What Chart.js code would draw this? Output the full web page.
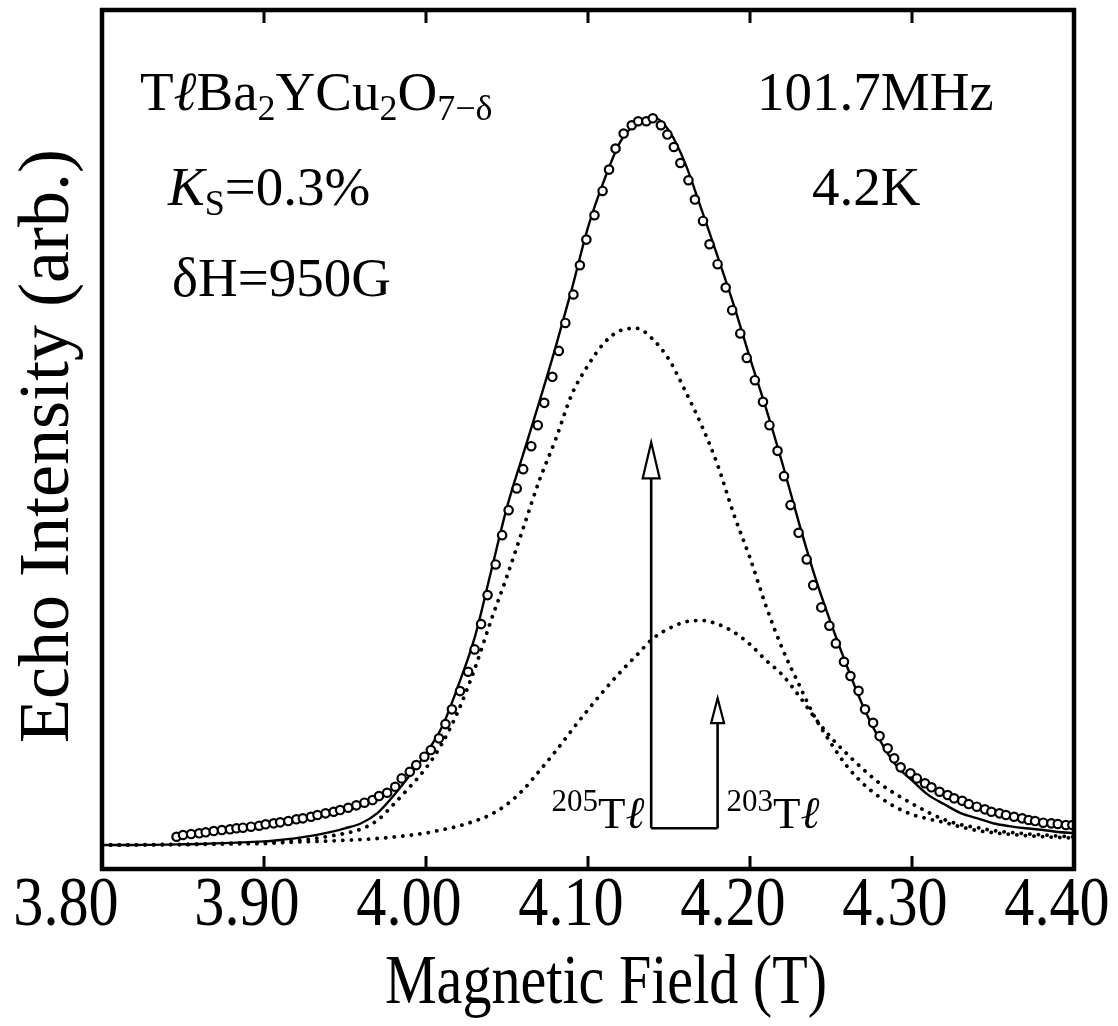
<!DOCTYPE html>
<html>
<head>
<meta charset="utf-8">
<script src="https://cdn.jsdelivr.net/npm/chart.js@4.4.1/dist/chart.umd.min.js"></script>
<style>
  html, body { margin: 0; padding: 0; background: #fff; }
</style>
</head>
<body>
<canvas id="myChart" width="1118" height="1026"></canvas>
<script>
const serif = '"Liberation Serif", "DejaVu Serif", serif';

// measured echo intensity (circles)
const echoField = [
  3.846, 3.850, 3.855, 3.860, 3.864, 3.869, 3.874, 3.879, 3.883, 3.887,
  3.892, 3.897, 3.901, 3.906, 3.910, 3.915, 3.920, 3.924, 3.929, 3.933,
  3.938, 3.943, 3.947, 3.952, 3.957, 3.962, 3.967, 3.971, 3.976, 3.981,
  3.985, 3.990, 3.994, 3.999, 4.003, 4.008, 4.012, 4.016, 4.021, 4.026,
  4.030, 4.034, 4.038, 4.043, 4.047, 4.051, 4.056, 4.060, 4.065, 4.069,
  4.073, 4.078, 4.082, 4.086, 4.091, 4.095, 4.099, 4.104, 4.109, 4.113,
  4.117, 4.122, 4.127, 4.131, 4.136, 4.140, 4.145, 4.149, 4.153, 4.157,
  4.162, 4.166, 4.171, 4.175, 4.180, 4.185, 4.189, 4.194, 4.198, 4.203,
  4.208, 4.212, 4.217, 4.221, 4.225, 4.230, 4.235, 4.239, 4.244, 4.249,
  4.253, 4.258, 4.262, 4.267, 4.271, 4.276, 4.280, 4.285, 4.289, 4.293,
  4.299, 4.303, 4.308, 4.312, 4.317, 4.322, 4.326, 4.331, 4.335, 4.340,
  4.345, 4.349, 4.354, 4.358, 4.363, 4.368, 4.372, 4.376, 4.381, 4.386,
  4.390, 4.395, 4.399
];
const echoData = [
  1.14, 1.38, 1.51, 1.61, 1.75, 1.93, 2.06, 2.16, 2.30, 2.38,
  2.52, 2.65, 2.85, 2.98, 3.12, 3.30, 3.54, 3.67, 3.89, 4.13,
  4.36, 4.58, 4.81, 5.13, 5.46, 5.82, 6.19, 6.74, 7.19, 8.02,
  9.17, 10.08, 11.0, 12.15, 13.07, 14.68, 16.64, 18.67, 21.18, 23.84,
  26.92, 30.40, 34.39, 38.61, 42.64, 46.08, 49.07, 51.72, 54.88, 57.77,
  60.84, 64.42, 67.99, 71.84, 75.75, 79.78, 83.31, 86.66, 90.0, 92.94,
  95.83, 97.9, 99.04, 99.59, 99.59, 100.0, 99.04, 97.76, 96.05, 93.85,
  91.47, 88.82, 85.87, 82.67, 79.92, 76.71, 73.59, 70.39, 67.03, 63.96,
  60.98, 57.77, 54.24, 50.76, 46.77, 42.96, 39.30, 35.76, 32.70, 30.17,
  27.74, 25.21, 23.25, 21.22, 18.67, 16.82, 14.99, 13.30, 11.93, 10.69,
  9.86, 9.17, 8.49, 7.94, 7.33, 6.88, 6.42, 6.09, 5.64, 5.27,
  4.91, 4.58, 4.36, 4.13, 3.89, 3.67, 3.44, 3.30, 3.07, 2.98,
  2.89, 2.75, 2.75
];

// fitted curves (solid = total, dotted = 205Tl and 203Tl parts)
const fitField = [
  3.80, 3.81, 3.82, 3.83, 3.84, 3.85, 3.86, 3.87, 3.88, 3.89,
  3.90, 3.91, 3.92, 3.93, 3.94, 3.95, 3.96, 3.97, 3.98, 3.99,
  4.00, 4.01, 4.02, 4.03, 4.04, 4.05, 4.06, 4.07, 4.08, 4.09,
  4.10, 4.11, 4.12, 4.13, 4.14, 4.15, 4.16, 4.17, 4.18, 4.19,
  4.20, 4.21, 4.22, 4.23, 4.24, 4.25, 4.26, 4.27, 4.28, 4.29,
  4.30, 4.31, 4.32, 4.33, 4.34, 4.35, 4.36, 4.37, 4.38, 4.39,
  4.40
];
const fitTotal = [
  0, 0, 0, 0.02, 0.05, 0.1, 0.15, 0.22, 0.3, 0.4,
  0.5, 0.7, 0.95, 1.3, 1.75, 2.3, 3.0, 4.4, 6.8, 9.6,
  12.6, 16.3, 22.0, 28.5, 37.5, 46.5, 53.8, 61.0, 68.5, 76.5,
  85.0, 91.5, 96.8, 99.3, 100.2, 98.3, 93.8, 87.5, 81.0, 74.3,
  67.0, 60.0, 52.5, 44.5, 37.0, 30.5, 24.5, 19.0, 14.5, 11.0,
  8.9, 6.9, 5.6, 4.4, 3.7, 3.0, 2.6, 2.3, 2.1, 1.8,
  1.65
];
const fit205 = [
  0, 0, 0.02, 0.05, 0.08, 0.1, 0.13, 0.18, 0.25, 0.3,
  0.35, 0.45, 0.6, 0.85, 1.2, 1.6, 2.2, 3.4, 5.6, 8.0,
  10.6, 14.0, 18.5, 24.2, 30.8, 37.0, 43.6, 50.2, 55.8, 62.0,
  66.0, 69.1, 70.8, 71.1, 69.6, 66.8, 62.5, 57.8, 52.3, 45.5,
  39.5, 32.8, 27.0, 22.2, 17.6, 14.0, 10.8, 8.4, 6.6, 5.2,
  4.2, 3.6, 3.1, 2.5, 2.0, 1.7, 1.5, 1.3, 1.15, 1.05,
  0.95
];
const fit203 = [
  0, 0, 0.02, 0.03, 0.04, 0.05, 0.08, 0.12, 0.15, 0.18,
  0.2, 0.3, 0.4, 0.48, 0.55, 0.65, 0.75, 0.9, 1.1, 1.35,
  1.65, 2.1, 2.6, 3.3, 4.2, 5.6, 7.6, 10.2, 12.9, 15.8,
  18.6, 21.3, 23.8, 26.1, 28.4, 29.8, 30.7, 30.9, 30.4, 29.3,
  27.6, 25.4, 23.4, 20.6, 17.5, 14.8, 12.5, 10.4, 8.5, 7.0,
  5.7, 4.5, 3.5, 2.8, 2.4, 2.0, 1.75, 1.55, 1.4, 1.25,
  1.1
];

// isotope line positions (arrows)
const arrowField = [4.139, 4.180];
const arrowTop = [55.4, 20.2];
const arrowBase = 2.3;
const arrowLabels = ['205', '203'];

const xTicks = [3.80, 3.90, 4.00, 4.10, 4.20, 4.30, 4.40];

const toXY = (xs, ys) => xs.map((x, i) => ({ x: x, y: ys[i] }));

function drawRich(ctx, x, y, parts) {
  parts.forEach(p => {
    ctx.font = (p.italic ? 'italic ' : '') + p.size + 'px ' + serif;
    ctx.fillText(p.t, x, y + (p.dy || 0));
    x += ctx.measureText(p.t).width;
  });
  return x;
}

function richWidth(ctx, parts) {
  let w = 0;
  parts.forEach(p => {
    ctx.font = (p.italic ? 'italic ' : '') + p.size + 'px ' + serif;
    w += ctx.measureText(p.t).width;
  });
  return w;
}

// condensed text, like the narrow typeset labels of the original
function narrowText(ctx, text, cx, y, size, squeeze) {
  ctx.save();
  ctx.font = size + 'px ' + serif;
  ctx.textAlign = 'center';
  ctx.translate(cx, y);
  ctx.scale(squeeze, 1);
  ctx.fillText(text, 0, 0);
  ctx.restore();
}

const notes = {
  id: 'notes',
  afterDatasetsDraw(chart) {
    const { ctx, chartArea: a, scales: { x, y } } = chart;
    ctx.save();
    ctx.strokeStyle = '#000';
    ctx.fillStyle = '#000';
    ctx.textBaseline = 'alphabetic';
    ctx.textAlign = 'left';

    // arrows for the two isotopes
    const xs = arrowField.map(v => x.getPixelForValue(v));
    const yb = y.getPixelForValue(arrowBase);
    ctx.lineWidth = 2.6;
    ctx.beginPath();
    ctx.moveTo(xs[0], yb);
    ctx.lineTo(xs[1], yb);
    ctx.stroke();
    xs.forEach((px, i) => {
      const tip = y.getPixelForValue(arrowTop[i]);
      const len = i === 0 ? 36 : 25;
      const half = i === 0 ? 8.5 : 6.5;
      ctx.lineWidth = 2.6;
      ctx.beginPath();
      ctx.moveTo(px, yb);
      ctx.lineTo(px, tip + len);
      ctx.stroke();
      ctx.lineWidth = 2.2;
      ctx.beginPath();
      ctx.moveTo(px, tip);
      ctx.lineTo(px - half, tip + len);
      ctx.lineTo(px + half, tip + len);
      ctx.closePath();
      ctx.fillStyle = '#fff';
      ctx.fill();
      ctx.stroke();
      ctx.fillStyle = '#000';
    });

    // isotope labels
    const iso = lab => [
      { t: lab, size: 31, dy: -17 }, { t: 'T', size: 45 }, { t: 'ℓ', size: 45, italic: true }
    ];
    drawRich(ctx, xs[0] - 7 - richWidth(ctx, iso(arrowLabels[0])), yb, iso(arrowLabels[0]));
    drawRich(ctx, xs[1] + 9, yb, iso(arrowLabels[1]));

    // sample text
    drawRich(ctx, 140, 110, [
      { t: 'T', size: 55 }, { t: 'ℓ', size: 55, italic: true }, { t: 'Ba', size: 55 },
      { t: '2', size: 36, dy: 10 },
      { t: 'YCu', size: 55 }, { t: '2', size: 36, dy: 10 },
      { t: 'O', size: 55 }, { t: '7−δ', size: 36, dy: 10 }
    ]);
    drawRich(ctx, 168, 205, [
      { t: 'K', size: 55, italic: true }, { t: 'S', size: 36, dy: 10 }, { t: '=0.3%', size: 55 }
    ]);
    drawRich(ctx, 172, 296, [{ t: 'δH=950G', size: 55 }]);
    drawRich(ctx, 757, 110, [{ t: '101.7MHz', size: 55 }]);
    drawRich(ctx, 812, 205, [{ t: '4.2K', size: 55 }]);

    // frame and inward ticks
    ctx.lineWidth = 4.5;
    ctx.strokeRect(a.left, a.top, a.right - a.left, a.bottom - a.top);
    ctx.lineWidth = 3;
    xTicks.forEach(v => {
      const px = x.getPixelForValue(v);
      ctx.beginPath();
      ctx.moveTo(px, a.top);
      ctx.lineTo(px, a.top + 13);
      ctx.moveTo(px, a.bottom);
      ctx.lineTo(px, a.bottom - 13);
      ctx.stroke();
    });

    // tick labels and axis titles
    xTicks.forEach((v, i) => {
      const shift = i === 0 ? -36 : -17;
      narrowText(ctx, v.toFixed(2), x.getPixelForValue(v) + shift, 925, 70, 0.86);
    });
    narrowText(ctx, 'Magnetic Field (T)', 606, 1003, 70, 0.83);
    ctx.save();
    ctx.translate(68, 446);
    ctx.rotate(-Math.PI / 2);
    ctx.font = '72px ' + serif;
    ctx.textAlign = 'center';
    ctx.fillText('Echo Intensity (arb.)', 0, 0);
    ctx.restore();

    ctx.restore();
  }
};

const ctx = document.getElementById('myChart').getContext('2d');
const myChart = new Chart(ctx, {
  type: 'line',
  data: {
    datasets: [
      {
        type: 'scatter',
        label: 'data',
        data: toXY(echoField, echoData),
        showLine: false,
        pointRadius: 4.2,
        pointBorderWidth: 2.2,
        pointBackgroundColor: '#fff',
        pointBorderColor: '#000',
        order: 0
      },
      {
        label: 'fit',
        data: toXY(fitField, fitTotal),
        borderColor: '#000',
        borderWidth: 2.4,
        pointRadius: 0,
        cubicInterpolationMode: 'monotone',
        order: 1
      },
      {
        label: '205Tl',
        data: toXY(fitField, fit205),
        borderColor: '#000',
        borderWidth: 3.8,
        borderDash: [0.1, 8.5],
        borderCapStyle: 'round',
        pointRadius: 0,
        cubicInterpolationMode: 'monotone',
        order: 2
      },
      {
        label: '203Tl',
        data: toXY(fitField, fit203),
        borderColor: '#000',
        borderWidth: 3.8,
        borderDash: [0.1, 8.5],
        borderCapStyle: 'round',
        pointRadius: 0,
        cubicInterpolationMode: 'monotone',
        order: 3
      }
    ]
  },
  options: {
    responsive: false,
    animation: false,
    layout: { padding: { top: 10, right: 44, left: 0, bottom: 0 } },
    plugins: { legend: { display: false }, tooltip: { enabled: false } },
    scales: {
      x: {
        type: 'linear',
        min: 3.8,
        max: 4.4,
        afterBuildTicks: s => { s.ticks = xTicks.map(v => ({ value: v })); },
        afterFit: s => { s.height = 157; },
        grid: { display: false, drawTicks: false },
        border: { display: false },
        ticks: { display: false }
      },
      y: {
        min: -3.3,
        max: 114.9,
        afterFit: s => { s.width = 102; },
        grid: { display: false, drawTicks: false },
        border: { display: false },
        ticks: { display: false }
      }
    }
  },
  plugins: [notes]
});
</script>
</body>
</html>
